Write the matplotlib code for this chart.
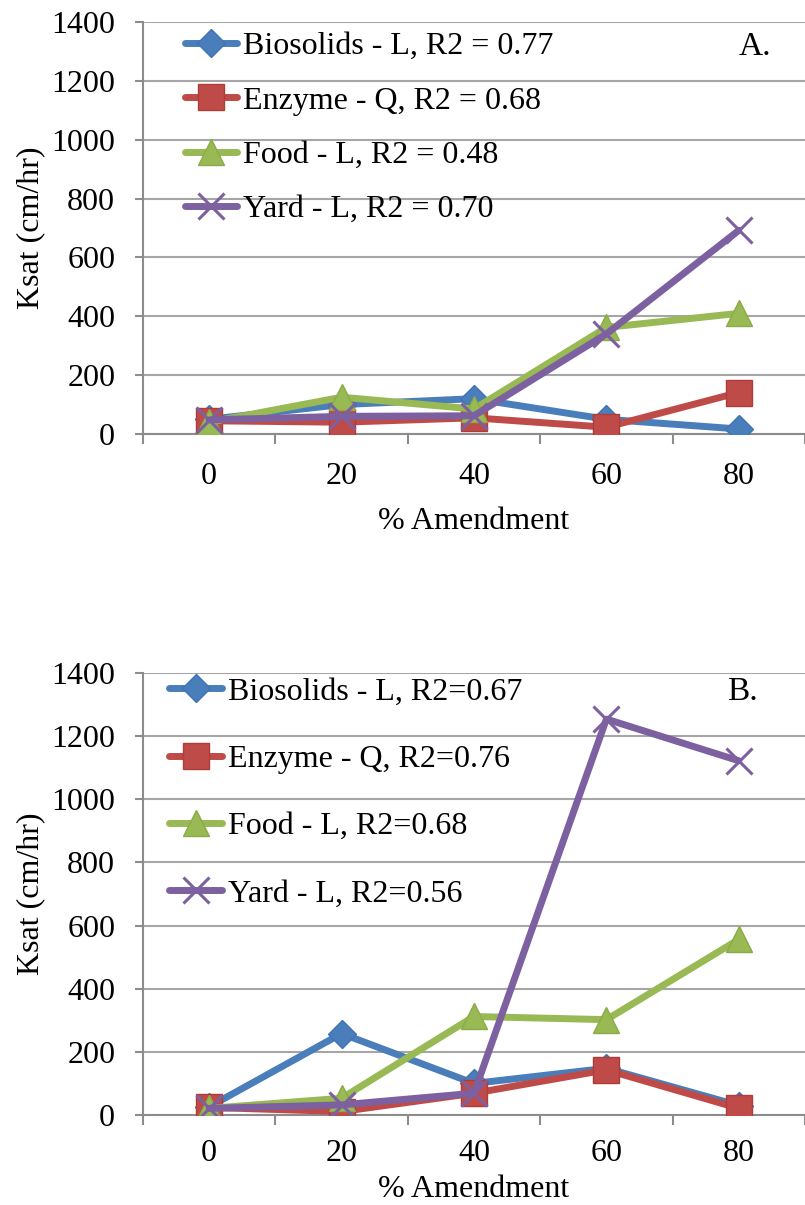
import matplotlib
matplotlib.use("Agg")
import matplotlib.pyplot as plt

plt.rcParams['font.family'] = ['Liberation Serif', 'DejaVu Serif']

categories = ["0", "20", "40", "60", "80"]

# Panel A
a_biosolids = [50, 100, 120, 50, 17]
a_enzyme = [45, 40, 55, 23, 141]
a_food = [40, 125, 85, 362, 410]
a_yard = [48, 60, 62, 340, 692]
a_labels = ["Biosolids - L, R2 = 0.77", "Enzyme - Q, R2 = 0.68",
            "Food - L, R2 = 0.48", "Yard - L, R2 = 0.70"]

# Panel B
b_biosolids = [26, 258, 100, 148, 30]
b_enzyme = [24, 11, 69, 143, 21]
b_food = [21, 53, 312, 302, 556]
b_yard = [21, 32, 69, 1254, 1122]
b_labels = ["Biosolids - L, R2=0.67", "Enzyme - Q, R2=0.76",
            "Food - L, R2=0.68", "Yard - L, R2=0.56"]

colors = ["#4a7ebb", "#be4b48", "#98b954", "#7d60a0"]
edge = ["#3f73b3", "#b03c3a", "#8aab48", "#7d60a0"]
markers = ["D", "s", "^", "x"]
msizes = [14, 19, 19, 19]

W, H = 805, 1205
FS = 23
fig = plt.figure(figsize=(W / 100, H / 100), dpi=100)


def make_panel(rect, series, labels, tag, tag_pos, legend_anchor, labelspacing,
               xpad, xlabelpad):
    ax = fig.add_axes(rect)
    x = list(range(len(categories)))
    handles = []
    for s, c, e, m, ms, lab in zip(series, colors, edge, markers, msizes, labels):
        if m == "x":
            ln, = ax.plot(x, s, color=c, lw=5, marker=m, ms=ms, mew=2.2,
                          mec=c, label=lab, zorder=3, solid_capstyle='round')
        else:
            ln, = ax.plot(x, s, color=c, lw=5, marker=m, ms=ms, mfc=c,
                          mec=e, mew=1, label=lab, zorder=3, solid_capstyle='round')
        handles.append(ln)
    ax.set_xlim(-0.5, len(categories) - 0.5)
    ax.set_ylim(0, 1400)
    ax.set_yticks(range(0, 1401, 200))
    ax.set_xticks(x)
    ax.set_xticklabels(categories)
    ax.set_xticks([i - 0.5 for i in range(len(categories) + 1)], minor=True)
    ax.tick_params(axis='x', which='major', length=0, labelsize=FS, pad=xpad)
    ax.tick_params(axis='x', which='minor', length=7, width=1.5, color='#8c8c8c')
    ax.tick_params(axis='y', length=6, width=1.5, color='#8c8c8c', labelsize=FS, pad=14)
    ax.grid(axis='y', color='#a6a6a6', lw=1.5, zorder=0)
    for sp in ['top', 'right']:
        ax.spines[sp].set_visible(False)
    for sp in ['left', 'bottom']:
        ax.spines[sp].set_color('#8c8c8c')
        ax.spines[sp].set_linewidth(1.5)
    ax.set_ylabel("Ksat (cm/hr)", fontsize=FS, labelpad=4.5)
    ax.set_xlabel("% Amendment", fontsize=FS, labelpad=xlabelpad)
    ax.legend(handles=handles, loc='upper left', bbox_to_anchor=legend_anchor,
              frameon=False, fontsize=FS, labelspacing=labelspacing,
              handlelength=1.65, handletextpad=0.17, borderaxespad=0,
              borderpad=0)
    ax.text(tag_pos[0], tag_pos[1], tag, transform=ax.transAxes, fontsize=FS + 1,
            ha='center', va='center')
    return ax


make_panel([143 / W, (H - 434) / H, 1 - 143 / W, (434 - 22) / H],
           [a_biosolids, a_enzyme, a_food, a_yard], a_labels, "A.", (0.925, 0.939),
           (0.063, 0.976), 0.78, 20.5, 11)
make_panel([143 / W, (H - 1115) / H, 1 - 143 / W, (1115 - 673) / H],
           [b_biosolids, b_enzyme, b_food, b_yard], b_labels, "B.", (0.906, 0.957),
           (0.040, 0.991), 1.19, 17.0, 5.5)

fig.savefig("out.png", dpi=100)
